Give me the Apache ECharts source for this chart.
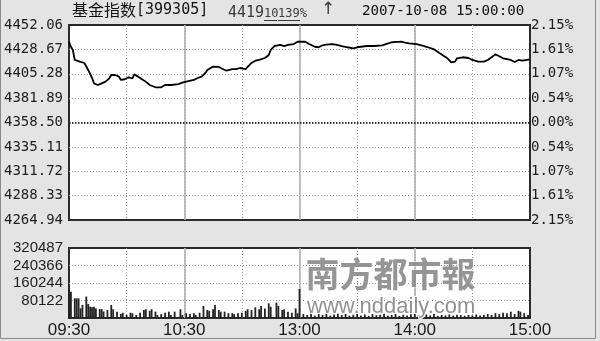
<!DOCTYPE html>
<html><head><meta charset="utf-8">
<script src="https://cdn.jsdelivr.net/npm/echarts@6/dist/echarts.min.js"></script>
<style>html,body{margin:0;padding:0;background:#e4e4e4}#c{width:600px;height:341px}</style>
</head><body><div id="c"></div>
<script>
// ---- tick labels ----
const basePrice = 4358.50;
const priceStep = 23.39;
const priceTickLabels = ['4264.94','4288.33','4311.72','4335.11','4358.50','4381.89','4405.28','4428.67','4452.06'];
const pctTickLabels = ['2.15%','1.61%','1.07%','0.54%','0.00%','0.54%','1.07%','1.61%','2.15%'];
const volStep = 80122;
const volTickLabels = ['','80122','160244','240366','320487'];
const timeTickLabels = ['09:30','10:30','13:00','14:00','15:00'];

// ---- price series: minutes since 09:30 (0-120 morning, 120-240 afternoon) ----
const priceMinutes = [0,1,2,3,4,6,7,8,10,12,13,15,17,19,21,22,24,26,27,29,31,33,34,36,38,40,42,45,46,48,50,53,57,59,
  61,65,67,69,71,72,75,78,80,82,85,87,89,92,93,95,97,99,102,104,105,107,110,112,114,117,119,
  120,123,125,128,130,132,134,137,139,142,145,148,150,152,155,159,163,165,168,171,173,175,177,
  181,184,187,190,193,197,199,201,202,205,208,210,213,216,218,220,222,223,226,230,232,234,236,240];
const priceValues = [4436.0,4431.2,4428.1,4418.5,4416.6,4416.6,4416.9,4415.6,4408.9,4401.2,4396.1,4394.5,4396.1,4397.7,4400.9,4404.1,4404.1,4402.5,4399.3,4400.0,4401.9,4400.9,4404.7,4402.5,4400.0,4397.7,4394.5,4392.3,4390.4,4392.3,4394.5,4394.5,4395.4,4396.7,
  4397.7,4399.3,4401.2,4402.5,4406.0,4408.9,4412.1,4411.8,4409.8,4408.2,4409.8,4409.8,4410.8,4409.8,4411.8,4415.6,4417.8,4418.5,4420.4,4423.3,4428.1,4431.9,4432.9,4431.9,4432.9,4433.8,4436.0,
  4436.7,4436.0,4433.8,4431.2,4430.7,4432.6,4433.2,4433.8,4433.2,4431.9,4430.7,4429.7,4430.7,4431.2,4431.9,4431.9,4432.6,4433.8,4435.5,4435.8,4436.0,4435.1,4434.5,
  4433.8,4432.2,4430.7,4428.7,4424.9,4420.1,4416.3,4416.9,4420.1,4421.1,4420.4,4418.5,4416.9,4416.9,4418.5,4421.1,4424.0,4422.3,4420.1,4418.5,4416.6,4418.5,4417.8,4419.1];

// ---- volume series ----
const volMinutes = [0,1,3,4,5,6,7,9,10,11,12,13,14,16,17,18,20,22,23,25,27,28,30,32,33,35,37,39,40,42,43,45,46,48,50,52,53,55,58,59,
  61,63,65,66,68,70,72,73,75,76,78,79,81,83,85,86,88,90,92,93,95,97,99,100,102,104,105,108,109,111,112,114,116,118,119,
  120,122,124,126,128,130,132,134,136,138,140,142,144,146,148,150,152,154,156,158,160,162,164,166,168,170,172,174,176,178,
  180,182,184,186,188,190,192,194,196,198,200,202,204,206,208,210,212,214,216,218,220,222,224,226,228,230,232,234,235,237,239];
const volValues = [128000,120000,90000,90000,90000,44000,60000,98000,64000,52000,49000,52000,44000,41000,41000,30000,37000,60000,40000,29000,18000,24000,14000,24000,22000,14000,24000,37000,40000,33000,40000,29000,14000,18000,24000,29000,14000,29000,40000,14000,
  22000,18000,22000,14000,24000,55000,37000,33000,40000,60000,37000,29000,29000,22000,22000,18000,22000,24000,33000,40000,37000,49000,40000,55000,44000,67000,52000,70000,55000,37000,40000,29000,24000,44000,22000,
  133000,18000,14000,22000,11000,18000,14000,24000,11000,16000,20000,13000,18000,11000,15000,22000,12000,16000,10000,18000,13000,15000,20000,11000,14000,18000,10000,15000,12000,17000,
  22000,13000,11000,16000,12000,18000,10000,14000,12000,16000,11000,15000,13000,10000,14000,12000,16000,11000,14000,18000,14000,22000,18000,24000,22000,29000,18000,33000,29000,22000,14000];

const priceData = priceMinutes.map((m, i) => [m, (priceValues[i] - basePrice) / priceStep]);
const volData = volMinutes.map((m, i) => [m, volValues[i] / volStep]);

const mono = "'DejaVu Sans Mono', monospace";
const dotted = { color: '#9a9a9a', width: 1, type: [1, 2] };
const solidV = { color: '#b0b0b0', width: 1.6, type: 'solid' };

function xAxes(gridIndex, withLabels) {
  return [
    { gridIndex, type: 'value', min: 0, max: 240, interval: 30, position: 'bottom',
      axisLine: { show: false }, axisTick: { show: false }, axisLabel: { show: false },
      splitLine: { show: true, showMinLine: false, showMaxLine: false, lineStyle: dotted } },
    { gridIndex, type: 'value', min: 0, max: 240, interval: 60, position: 'bottom',
      axisLine: { show: false }, axisTick: { show: false },
      axisLabel: { show: withLabels, margin: 4, color: '#1a1a1a', fontSize: 17,
        fontFamily: "'Liberation Sans', Arial, sans-serif", showMinLabel: true, showMaxLabel: true,
        formatter: v => timeTickLabels[Math.round(v / 60)] },
      splitLine: { show: true, showMinLine: false, showMaxLine: false, lineStyle: solidV } }
  ];
}

const chart = echarts.init(document.getElementById('c'), null, { renderer: 'canvas' });
chart.setOption({
  backgroundColor: '#e4e4e4',
  animation: false,
  grid: [
    { left: 69, top: 25, width: 461, height: 195, show: true, backgroundColor: '#ffffff', borderColor: '#2b2b2b', borderWidth: 2 },
    { left: 69, top: 248, width: 461, height: 70, show: true, backgroundColor: '#ffffff', borderColor: '#2b2b2b', borderWidth: 2 }
  ],
  xAxis: [...xAxes(0, false), ...xAxes(1, true)],
  yAxis: [
    { gridIndex: 0, type: 'value', min: -4, max: 4, interval: 1, position: 'left',
      axisLine: { show: false }, axisTick: { show: false },
      axisLabel: { margin: 6, color: '#1e1e1e', fontSize: 14, fontFamily: mono,
        formatter: v => priceTickLabels[Math.round(v) + 4] },
      splitLine: { show: true, showMinLine: false, showMaxLine: false, lineStyle: dotted } },
    { gridIndex: 0, type: 'value', min: -4, max: 4, interval: 1, position: 'right',
      axisLine: { show: false }, axisTick: { show: false },
      axisLabel: { margin: 1, color: '#1e1e1e', fontSize: 14, fontFamily: mono,
        formatter: v => pctTickLabels[Math.round(v) + 4] },
      splitLine: { show: false } },
    { gridIndex: 1, type: 'value', min: 0, max: 4, interval: 1, position: 'left',
      axisLine: { show: false }, axisTick: { show: false },
      axisLabel: { margin: 6, color: '#1e1e1e', fontSize: 15, fontFamily: "'Liberation Sans', Arial, sans-serif",
        formatter: v => volTickLabels[Math.round(v)] },
      splitLine: { show: true, showMinLine: false, showMaxLine: false, lineStyle: dotted } }
  ],
  series: [
    { type: 'line', xAxisIndex: 0, yAxisIndex: 0, data: priceData, showSymbol: false, symbol: 'none',
      lineStyle: { color: '#000', width: 1.8 }, z: 5,
      markLine: { silent: true, symbol: 'none', label: { show: false },
        lineStyle: { color: '#000', width: 1.5, type: [1.5, 1.5] }, data: [{ yAxis: 0 }] } },
    { type: 'bar', xAxisIndex: 2, yAxisIndex: 2, data: volData, barWidth: 1.8,
      itemStyle: { color: '#222' }, z: 5 }
  ],
  graphic: [
    { type: 'text', left: 72, top: 2, z: 100, style: {
        text: '{c|基金指数}{m|[399305]}', rich: {
          c: { fontSize: 16, fontFamily: "'Noto Sans CJK SC', sans-serif", fill: '#111' },
          m: { fontSize: 15, fontFamily: mono, fill: '#111' } } } },
    { type: 'text', left: 228, top: 6, z: 100, style: { text: '4419', fontSize: 15, fontFamily: mono, fill: '#3a3a3a' } },
    { type: 'text', left: 264, top: 8, z: 100, style: { text: '10', fontSize: 12, fontFamily: mono, fill: '#3a3a3a' } },
    { type: 'text', left: 278, top: 8, z: 100, style: { text: '139%', fontSize: 12, fontFamily: mono, fill: '#3a3a3a' } },
    { type: 'line', z: 100, shape: { x1: 264, y1: 20.5, x2: 277, y2: 20.5 }, style: { stroke: '#3a3a3a', lineWidth: 1 } },
    { type: 'line', z: 100, shape: { x1: 278, y1: 20.5, x2: 300, y2: 20.5 }, style: { stroke: '#3a3a3a', lineWidth: 1 } },
    { type: 'text', left: 321, top: 1, z: 100, style: { text: '↑', fontSize: 17, fontFamily: "'DejaVu Sans', sans-serif", fill: '#3a3a3a' } },
    { type: 'text', left: 362, top: 4, z: 100, style: { text: '2007-10-08 15:00:00', fontSize: 14.2, fontFamily: mono, fill: '#111' } },
    { type: 'text', left: 305, top: 257, z: 100, style: { text: '南方都市報', fontSize: 34, fontWeight: 'bold',
        fontFamily: "'Noto Sans CJK TC', sans-serif", fill: 'rgba(140,140,140,0.92)', stroke: 'rgba(255,255,255,0.8)', lineWidth: 1 } },
    { type: 'text', left: 306, top: 295, z: 100, style: { text: 'www.nddaily.com', fontSize: 22,
        fontFamily: "'Liberation Sans', Arial, sans-serif", fill: 'rgba(140,140,140,0.95)', stroke: '#ffffff', lineWidth: 2 } },
    { type: 'rect', z: 100, shape: { x: 0.5, y: -2, width: 595, height: 340.5 }, style: { fill: 'none', stroke: '#8a8a8a', lineWidth: 1 } }
  ]
});
</script></body></html>
